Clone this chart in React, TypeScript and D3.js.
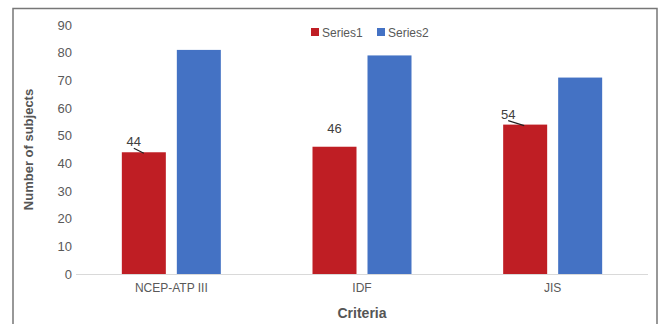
import * as d3 from "d3";
import React, { useRef, useEffect } from "react";

const categories = ["NCEP-ATP III", "IDF", "JIS"];
const seriesNames = ["Series1", "Series2"];
const series1 = [44, 46, 54];
const series2 = [81, 79, 71];
const yTicks = [0, 10, 20, 30, 40, 50, 60, 70, 80, 90];

// label placement tweaks for Series1 value labels (dx from bar center, dy above bar top)
const labelDx = [-10, 0, -17];
const labelDy = [-6, -14, -6];
const hasLeader = [true, false, true];

const colors = ["#bf1e24", "#4472c4"];
const width = 661;
const height = 324;
const plot = { left: 76, right: 648, top: 25, bottom: 274 };

const App = () => {
	const ref = useRef(null);

	useEffect(() => {
		if (!ref.current) return;
		const svg = d3.select(ref.current);
		svg.selectAll("*").remove();

		svg
			.append("rect")
			.attr("width", width)
			.attr("height", height)
			.attr("fill", "white");

		// outer frame
		svg
			.append("path")
			.attr("d", `M13,${height + 2}V8.5H657V${height + 2}`)
			.attr("fill", "none")
			.attr("stroke", "#777")
			.attr("stroke-width", 1.5);

		const xScale = d3
			.scaleBand()
			.domain(categories)
			.range([plot.left, plot.right]);
		const inner = d3
			.scaleBand()
			.domain(seriesNames)
			.range([0, 99])
			.paddingInner(0.2);
		const yScale = d3
			.scaleLinear()
			.domain([0, 90])
			.range([plot.bottom, plot.top]);

		const font = "'Liberation Sans', Arial, sans-serif";

		// y tick labels
		svg
			.append("g")
			.selectAll("text")
			.data(yTicks)
			.enter()
			.append("text")
			.attr("x", 72)
			.attr("y", (d: number) => yScale(d))
			.attr("dy", "0.35em")
			.attr("text-anchor", "end")
			.attr("font-family", font)
			.attr("font-size", 13)
			.attr("fill", "#595959")
			.text((d: number) => d);

		// baseline
		svg
			.append("line")
			.attr("x1", plot.left)
			.attr("x2", plot.right)
			.attr("y1", yScale(0) + 0.5)
			.attr("y2", yScale(0) + 0.5)
			.attr("stroke", "#d9d9d9");

		const groupOffset = (xScale.bandwidth() - 99) / 2;
		const allSeries = [series1, series2];

		allSeries.forEach((values, si) => {
			svg
				.append("g")
				.selectAll("rect")
				.data(values)
				.enter()
				.append("rect")
				.attr("x", (_d: number, i: number): any => (xScale(categories[i]) as number) + groupOffset + (inner(seriesNames[si]) as number))
				.attr("y", (d: number) => yScale(d))
				.attr("width", inner.bandwidth())
				.attr("height", (d: number) => yScale(0) - yScale(d))
				.attr("fill", colors[si]);
		});

		// value labels for Series1
		const barCenter = (i: number) =>
			(xScale(categories[i]) as number) + groupOffset + (inner("Series1") as number) + inner.bandwidth() / 2;

		const labels = svg.append("g");
		series1.forEach((v, i) => {
			const cx = barCenter(i) + labelDx[i];
			const by = yScale(v) + labelDy[i];
			labels
				.append("text")
				.attr("x", cx)
				.attr("y", by)
				.attr("text-anchor", "middle")
				.attr("font-family", font)
				.attr("font-size", 13)
				.attr("fill", "#404040")
				.text(v);
			if (hasLeader[i]) {
				labels
					.append("line")
					.attr("x1", cx)
					.attr("y1", by + 2)
					.attr("x2", cx + (labelDx[i] < -12 ? 16 : 10))
					.attr("y2", yScale(v) + 1)
					.attr("stroke", "#222")
					.attr("stroke-width", 1.2);
			}
		});

		// x category labels
		svg
			.append("g")
			.selectAll("text")
			.data(categories)
			.enter()
			.append("text")
			.attr("x", (d: string): any => (xScale(d) as number) + xScale.bandwidth() / 2)
			.attr("y", 292)
			.attr("text-anchor", "middle")
			.attr("font-family", font)
			.attr("font-size", 12)
			.attr("fill", "#595959")
			.text((d: string) => d);

		// axis titles
		svg
			.append("text")
			.attr("x", (plot.left + plot.right) / 2)
			.attr("y", 318)
			.attr("text-anchor", "middle")
			.attr("font-family", font)
			.attr("font-size", 14)
			.attr("font-weight", "bold")
			.attr("fill", "#555")
			.text("Criteria");

		svg
			.append("text")
			.attr("transform", `translate(33,${(plot.top + plot.bottom) / 2}) rotate(-90)`)
			.attr("text-anchor", "middle")
			.attr("font-family", font)
			.attr("font-size", 13)
			.attr("font-weight", "bold")
			.attr("fill", "#555")
			.text("Number of subjects");

		// legend
		const legend = svg.append("g").attr("transform", "translate(311,28)");
		const legendX = [0, 66];
		seriesNames.forEach((name, i) => {
			legend
				.append("rect")
				.attr("x", legendX[i])
				.attr("y", 0)
				.attr("width", 8)
				.attr("height", 8)
				.attr("fill", colors[i]);
			legend
				.append("text")
				.attr("x", legendX[i] + 11)
				.attr("y", 8.5)
				.attr("font-family", font)
				.attr("font-size", 12)
				.attr("fill", "#595959")
				.text(name);
		});
	}, []);

	return (
		<svg
			ref={ref}
			width={width}
			height={height}
			style={{ position: "absolute", left: 0, top: 0, display: "block" }}
		/>
	);
};

export default App;
